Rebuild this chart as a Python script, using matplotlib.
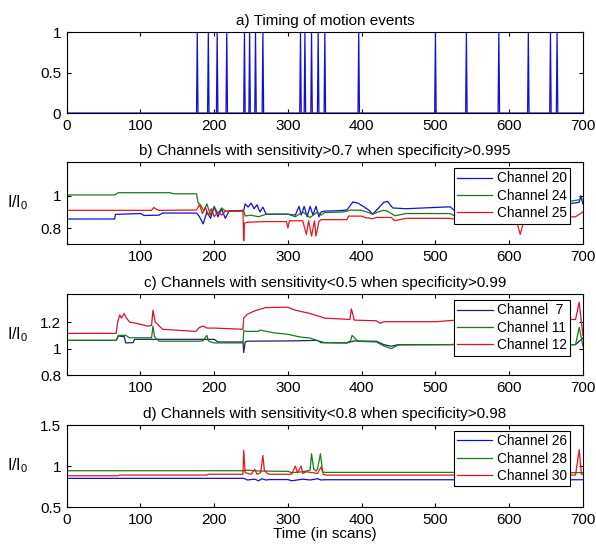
import matplotlib
matplotlib.use("Agg")
import matplotlib.pyplot as plt
import numpy as np

plt.rcParams['font.family'] = ['Liberation Sans', 'DejaVu Sans']
plt.rcParams['font.size'] = 10
plt.rcParams['mathtext.fontset'] = 'custom'
plt.rcParams['mathtext.rm'] = 'Liberation Sans'

# a) motion events (scan index of each event)
n_scans = 700
events = [177, 192, 204, 217, 241, 248, 256, 266, 317, 323, 332, 341, 350,
          396, 500, 542, 586, 626, 656, 665]

# b) sensitivity>0.7 when specificity>0.995
b20_x = [0, 65, 66, 100, 105, 125, 130, 176, 180, 185, 190, 195, 200, 205, 210, 215, 220, 240, 242, 246,
         250, 254, 258, 262, 266, 270, 272, 300, 310, 315, 318, 322, 326, 330, 334, 338, 342, 345, 350,
         370, 380, 388, 395, 402, 410, 415, 422, 430, 435, 442, 460, 520, 528, 540, 560, 580, 600, 620,
         640, 660, 680, 695, 697, 700]
b20_y = [0.856, 0.856, 0.885, 0.89, 0.878, 0.88, 0.893, 0.893, 0.87, 0.826, 0.9, 0.86, 0.93, 0.87, 0.92,
         0.86, 0.905, 0.91, 0.95, 0.93, 0.955, 0.92, 0.945, 0.9, 0.93, 0.89, 0.886, 0.886, 0.88, 0.935,
         0.88, 0.935, 0.87, 0.935, 0.88, 0.935, 0.87, 0.9, 0.905, 0.908, 0.912, 0.962, 0.955, 0.935, 0.91,
         0.886, 0.92, 0.96, 0.966, 0.925, 0.92, 0.932, 0.9, 0.92, 0.93, 0.93, 0.925, 0.91, 0.93, 0.94,
         0.95, 0.96, 1.0, 0.95]
b24_x = [0, 65, 70, 140, 145, 176, 178, 182, 186, 190, 195, 200, 205, 210, 215, 240, 242, 250, 260, 270,
         275, 300, 310, 320, 330, 340, 345, 350, 375, 385, 400, 410, 415, 422, 430, 435, 445, 460, 520,
         530, 540, 600, 700]
b24_y = [1.006, 1.006, 1.02, 1.02, 1.013, 1.013, 0.96, 0.94, 0.905, 0.95, 0.88, 0.935, 0.89, 0.925, 0.906,
         0.906, 0.875, 0.88, 0.87, 0.885, 0.886, 0.886, 0.87, 0.9, 0.865, 0.9, 0.88, 0.896, 0.9, 0.912,
         0.91, 0.895, 0.885, 0.9, 0.91, 0.905, 0.876, 0.89, 0.89, 0.866, 0.88, 0.9, 0.98]
b25_x = [0, 115, 118, 122, 125, 176, 180, 184, 188, 192, 196, 200, 205, 210, 215, 239, 240, 241, 245, 270,
         298, 300, 302, 320, 325, 328, 332, 336, 338, 342, 345, 380, 382, 400, 405, 415, 420, 440, 445,
         460, 520, 530, 540, 600, 610, 615, 620, 630, 690, 700]
b25_y = [0.91, 0.91, 0.928, 0.915, 0.91, 0.912, 0.945, 0.89, 0.93, 0.88, 0.92, 0.87, 0.9, 0.88, 0.905,
         0.905, 0.72, 0.83, 0.836, 0.84, 0.84, 0.80, 0.845, 0.845, 0.76, 0.845, 0.75, 0.845, 0.75, 0.84,
         0.852, 0.852, 0.874, 0.874, 0.865, 0.858, 0.866, 0.866, 0.846, 0.86, 0.86, 0.852, 0.86, 0.86,
         0.845, 0.76, 0.845, 0.86, 0.87, 0.9]

# c) sensitivity<0.5 when specificity>0.99
c7_x = [0, 67, 70, 78, 80, 90, 92, 200, 205, 239, 240, 242, 245, 300, 340, 345, 380, 390, 420, 430, 440,
        450, 540, 600, 690, 700]
c7_y = [1.062, 1.062, 1.095, 1.09, 1.043, 1.045, 1.07, 1.07, 1.05, 1.05, 0.97, 1.05, 1.056, 1.058, 1.062,
        1.045, 1.043, 1.058, 1.055, 1.03, 1.018, 1.03, 1.03, 1.03, 1.03, 1.08]
c11_x = [0, 67, 70, 80, 85, 115, 117, 119, 125, 180, 185, 190, 192, 195, 200, 239, 240, 245, 260, 262,
         280, 300, 310, 320, 330, 340, 350, 380, 385, 387, 395, 420, 430, 440, 450, 520, 530, 540, 600,
         690, 695, 700]
c11_y = [1.062, 1.062, 1.1, 1.1, 1.082, 1.082, 1.17, 1.09, 1.056, 1.056, 1.06, 1.1, 1.06, 1.05, 1.043,
         1.043, 1.135, 1.13, 1.13, 1.14, 1.12, 1.108, 1.095, 1.085, 1.08, 1.06, 1.045, 1.043, 1.06, 1.1,
         1.055, 1.05, 1.02, 1.0, 1.028, 1.03, 1.035, 1.03, 1.03, 1.03, 1.16, 1.02]
c12_x = [0, 67, 69, 72, 74, 78, 80, 85, 95, 110, 115, 117, 120, 130, 175, 180, 185, 190, 200, 239, 240,
         245, 255, 270, 300, 305, 310, 330, 350, 384, 386, 390, 420, 425, 430, 500, 540, 600, 690, 695, 700]
c12_y = [1.115, 1.115, 1.2, 1.255, 1.23, 1.265, 1.24, 1.2, 1.19, 1.17, 1.175, 1.29, 1.2, 1.146, 1.13,
         1.16, 1.17, 1.155, 1.155, 1.146, 1.23, 1.26, 1.285, 1.31, 1.313, 1.3, 1.29, 1.265, 1.23, 1.22,
         1.3, 1.215, 1.21, 1.19, 1.203, 1.203, 1.22, 1.22, 1.22, 1.35, 1.1]

# d) sensitivity<0.8 when specificity>0.98
d26_x = [0, 240, 245, 255, 260, 265, 270, 275, 300, 305, 320, 330, 340, 345, 350, 700]
d26_y = [0.85, 0.85, 0.83, 0.84, 0.82, 0.845, 0.83, 0.835, 0.835, 0.82, 0.84, 0.83, 0.845, 0.83, 0.833, 0.833]
d28_x = [0, 240, 245, 260, 300, 305, 320, 330, 332, 335, 338, 340, 344, 347, 350, 360, 530, 540, 700]
d28_y = [0.943, 0.943, 0.95, 0.94, 0.935, 0.92, 0.93, 0.95, 1.15, 0.96, 0.94, 0.96, 1.15, 0.93, 0.923,
         0.923, 0.923, 0.91, 0.92]
d30_x = [0, 70, 72, 190, 192, 239, 240, 242, 250, 255, 258, 263, 266, 268, 272, 275, 300, 305, 310, 313,
         318, 320, 325, 340, 345, 348, 352, 540, 690, 695, 698, 700]
d30_y = [0.882, 0.882, 0.89, 0.89, 0.9, 0.9, 1.19, 0.92, 0.9, 0.96, 0.9, 0.92, 1.13, 0.95, 0.91, 0.9, 0.9,
         0.9, 1.0, 0.92, 1.0, 0.91, 0.93, 0.91, 0.99, 0.9, 0.89, 0.89, 0.89, 1.2, 0.9, 0.9]

titles = ["a) Timing of motion events",
          "b) Channels with sensitivity>0.7 when specificity>0.995",
          "c) Channels with sensitivity<0.5 when specificity>0.99",
          "d) Channels with sensitivity<0.8 when specificity>0.98"]

fig = plt.figure(figsize=(5.96, 5.46), dpi=100)
left, width = 0.112, 0.866
bottoms = [0.793, 0.553, 0.313, 0.0714]
heights = [0.148, 0.150, 0.148, 0.150]
axs = [fig.add_axes([left, b, width, h]) for b, h in zip(bottoms, heights)]

blue = '#1010d8'
green = '#1a7a1a'
red = '#e01818'

# a)
motion = np.zeros(n_scans + 1)
motion[events] = 1
axs[0].plot(np.arange(n_scans + 1), motion, color=blue, lw=0.9)
axs[0].set_ylim(0, 1)
axs[0].set_yticks([0, 0.5, 1])
axs[0].set_yticklabels(['0', '0.5', '1'])

# b)
axs[1].plot(b20_x, b20_y, color=blue, lw=0.9, label='Channel 20')
axs[1].plot(b24_x, b24_y, color=green, lw=0.9, label='Channel 24')
axs[1].plot(b25_x, b25_y, color=red, lw=0.9, label='Channel 25')
axs[1].set_ylim(0.7, 1.21)
axs[1].set_yticks([0.8, 1])
axs[1].set_yticklabels(['0.8', '1'])

# c)
axs[2].plot(c7_x, c7_y, color='#20206e', lw=0.9, label='Channel  7')
axs[2].plot(c11_x, c11_y, color=green, lw=0.9, label='Channel 11')
axs[2].plot(c12_x, c12_y, color='#d81030', lw=0.9, label='Channel 12')
axs[2].set_ylim(0.8, 1.41)
axs[2].set_yticks([0.8, 1, 1.2])
axs[2].set_yticklabels(['0.8', '1', '1.2'])

# d)
axs[3].plot(d26_x, d26_y, color=blue, lw=0.9, label='Channel 26')
axs[3].plot(d28_x, d28_y, color=green, lw=0.9, label='Channel 28')
axs[3].plot(d30_x, d30_y, color=red, lw=0.9, label='Channel 30')
axs[3].set_ylim(0.5, 1.5)
axs[3].set_yticks([0.5, 1, 1.5])
axs[3].set_yticklabels(['0.5', '1', '1.5'])
axs[3].set_xlabel('Time (in scans)', fontsize=11, labelpad=0)

for i, ax in enumerate(axs):
    ax.set_xlim(0, 700)
    ax.set_xticks(range(0, 701, 100))
    if i in (1, 2):
        ax.set_xticklabels([''] + [str(v) for v in range(100, 701, 100)])
    ax.tick_params(direction='in', top=True, right=True, length=3, labelsize=11, pad=4)
    for s in ax.spines.values():
        s.set_linewidth(0.8)
    ax.set_title(titles[i], fontsize=11, pad=5)
    if i > 0:
        ax.set_ylabel(r'I/I$_\mathregular{0}$', rotation=0, fontsize=11.5, labelpad=16, va='center')
        leg = ax.legend(loc='upper right', bbox_to_anchor=(0.975, 0.93), borderaxespad=0,
                        fancybox=False, edgecolor='black', framealpha=1, fontsize=9.8,
                        handlelength=2.6, labelspacing=0.25, borderpad=0.25, handletextpad=0.3)
        leg.get_frame().set_linewidth(0.8)

fig.savefig('out.png', dpi=100)
